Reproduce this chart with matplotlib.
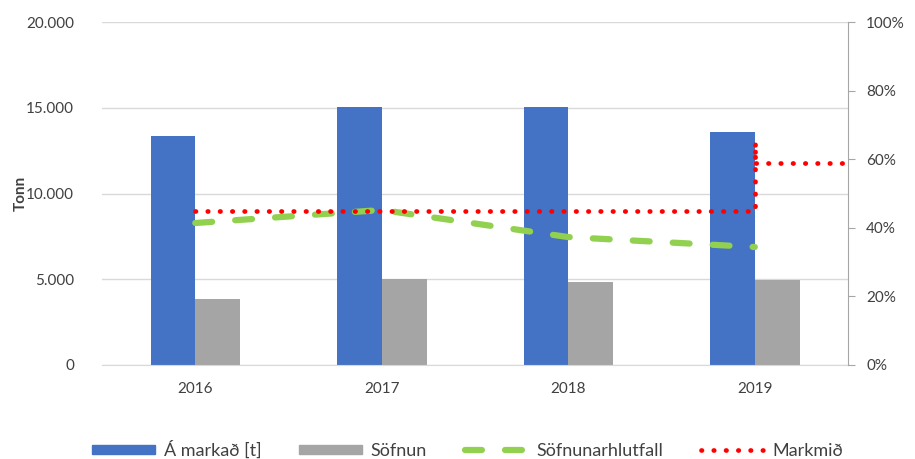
import matplotlib.pyplot as plt
from matplotlib.ticker import FuncFormatter, MultipleLocator
from matplotlib.lines import Line2D
from matplotlib.patches import Patch

years = ['2016', '2017', '2018', '2019']
a_markad = [13350, 15050, 15050, 13600]
sofnun = [3850, 5010, 4840, 4960]
sofnunarhlutfall = [41.4, 45.2, 37.3, 34.4]
# target: 45% for 2016-2019, then 65%/59% step at 2019
markmid_x = [0, 1, 2, 3, 3, 3, 3.5]
markmid_y = [45, 45, 45, 45, 65, 59, 59]

plt.rcParams['font.family'] = ['Lato', 'DejaVu Sans']
txt = '#404040'
green_dash = (0, (2.7, 3.7))
red_dot = (0, (0.1, 2.5))

fig = plt.figure(figsize=(9.15, 4.59), dpi=100)
ax = fig.add_axes([0.1115, 0.2048, 0.8153, 0.7472])
x = list(range(len(years)))
w = 0.24
ax.bar([i - w / 2 for i in x], a_markad, w, color='#4472C4', zorder=2)
ax.bar([i + w / 2 for i in x], sofnun, w, color='#A5A5A5', zorder=2)
ax.set_xlim(-0.5, 3.5)
ax.set_ylim(0, 20000)
ax.yaxis.set_major_locator(MultipleLocator(5000))
ax.yaxis.set_major_formatter(FuncFormatter(lambda v, p: f'{int(v):,}'.replace(',', '.')))
ax.set_xticks(x)
ax.set_xticklabels(years)
ax.grid(axis='y', color='#D9D9D9', linewidth=1, zorder=0)
for s in ['top', 'left', 'right']:
    ax.spines[s].set_visible(False)
ax.spines['bottom'].set_color('#D9D9D9')
ax.tick_params(axis='both', length=0, labelsize=11, colors=txt, pad=12)
ax.tick_params(axis='y', pad=20)
ax.set_ylabel('Tonn', fontsize=11, color=txt, fontweight='bold', labelpad=2)
ax.yaxis.set_label_coords(-0.1, 0.5)

ax2 = ax.twinx()
ax2.plot(x, sofnunarhlutfall, color='#92D050', linewidth=4.5, linestyle=green_dash,
         dash_capstyle='round', zorder=3)
ax2.plot(markmid_x, markmid_y, color='#FF0000', linewidth=3.4, linestyle=red_dot,
         dash_capstyle='round', zorder=4)
ax2.set_ylim(0, 100)
ax2.yaxis.set_major_locator(MultipleLocator(20))
ax2.yaxis.set_major_formatter(FuncFormatter(lambda v, p: f'{int(v)}%'))
for s in ['top', 'left', 'bottom']:
    ax2.spines[s].set_visible(False)
ax2.spines['right'].set_color('#A6A6A6')
ax2.tick_params(axis='y', length=5, color='#A6A6A6', labelsize=11, colors=txt, pad=8)

handles = [
    Patch(color='#4472C4'),
    Patch(color='#A5A5A5'),
    Line2D([], [], color='#92D050', linewidth=4.5, linestyle=green_dash, dash_capstyle='round'),
    Line2D([], [], color='#FF0000', linewidth=3.4, linestyle=red_dot, dash_capstyle='round'),
]
labels = ['Á markað [t]', 'Söfnun', 'Söfnunarhlutfall', 'Markmið']
fig.legend(handles, labels, loc='center', bbox_to_anchor=(0.511, 0.02), ncol=4, frameon=False,
           fontsize=13, labelcolor=txt, handlelength=3.5, handleheight=0.4,
           columnspacing=2.1, handletextpad=0.45)

fig.savefig('out.png', dpi=100)
